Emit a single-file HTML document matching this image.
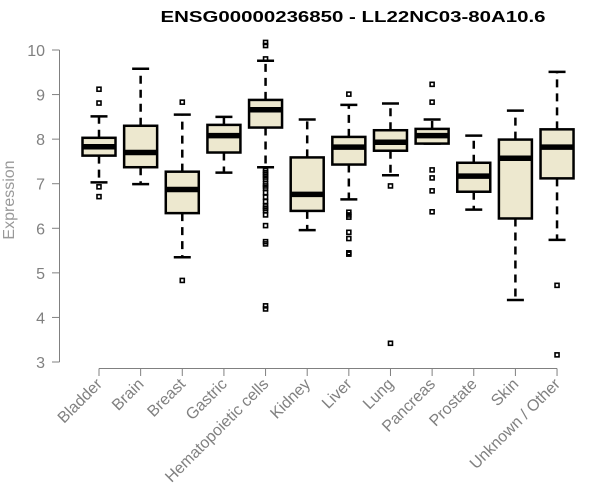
<!DOCTYPE html>
<html><head><meta charset="utf-8"><style>
body{margin:0;background:#fff;}
svg{display:block;font-family:"Liberation Sans",Arial,sans-serif;}
</style></head><body>
<svg id="chart" width="600" height="500"></svg>
<script>
const categories=["Bladder","Brain","Breast","Gastric","Hematopoietic cells","Kidney","Liver","Lung","Pancreas","Prostate","Skin","Unknown / Other"];
const whiskerLow=[7.03,6.99,5.35,7.25,7.37,5.96,6.65,7.19,7.90,6.42,4.39,5.74];
const q1=[7.63,7.37,6.34,7.70,8.26,6.39,7.43,7.74,7.90,6.82,6.22,7.12];
const medians=[7.83,7.70,6.87,8.08,8.66,6.76,7.82,7.93,8.08,7.17,7.57,7.82];
const q3=[8.03,8.30,7.27,8.32,8.88,7.59,8.05,8.20,8.23,7.47,7.99,8.22];
const whiskerHigh=[8.51,9.58,8.55,8.50,9.76,8.44,8.77,8.80,8.44,8.08,8.64,9.51];
const outliers=[[9.12,8.81,6.93,6.71],[],[8.83,4.83],[],
[10.17,10.10,9.80,7.3,7.25,7.2,7.15,7.1,7.0,6.95,6.9,6.8,6.7,6.6,6.5,6.45,6.4,6.3,6.06,5.70,5.65,4.26,4.19],
[],[9.01,6.36,6.30,6.25,5.91,5.77,5.45,5.42],[6.95,3.42],[9.23,8.83,7.31,7.13,6.84,6.37],[],[],[4.72,3.16]];
const yTicks=[3,4,5,6,7,8,9,10];
const NS="http://www.w3.org/2000/svg";
const svg=document.getElementById('chart');
const y=v=>362-(v-3)*(312/7);
const x=i=>99+i*41.64;
function el(t,a,p){const e=document.createElementNS(NS,t);for(const k in a)e.setAttribute(k,a[k]);(p||svg).appendChild(e);return e;}
const gray="#808080";
let t=el('text',{x:353,y:22,'text-anchor':'middle','font-size':16,'font-weight':'bold',fill:'#000',textLength:385,lengthAdjust:'spacingAndGlyphs'});t.textContent="ENSG00000236850 - LL22NC03-80A10.6";


let yl=el('text',{x:14,y:200,'text-anchor':'middle','font-size':16,fill:'#999',transform:'rotate(-90 14 200)'});yl.textContent="Expression";


let ya=el('line',{x1:59.5,x2:59.5,y1:y(3),y2:y(10),stroke:gray,'stroke-width':1});


yTicks.forEach(v=>{
 el('line',{x1:52,x2:59.5,y1:y(v),y2:y(v),stroke:gray});
 let tl=el('text',{x:45,y:y(v)+6,'text-anchor':'end','font-size':16,fill:gray});tl.textContent=v;
 
 
});
let xa=el('line',{x1:x(0),x2:x(11),y1:368.5,y2:368.5,stroke:gray});


categories.forEach((c,i)=>{
 const cx=x(i);
 el('line',{x1:cx,x2:cx,y1:368.5,y2:376,stroke:gray});
 let lb=el('text',{x:cx+4,y:385,'text-anchor':'end','font-size':16,fill:gray,transform:`rotate(-45 ${cx+4} 385)`});lb.textContent=c;
 
 
 const g=el('g',{});
 
 
 el('line',{x1:cx,x2:cx,y1:y(q3[i]),y2:y(whiskerHigh[i]),stroke:'#000','stroke-width':2.5,'stroke-dasharray':'8,6'},g);
 el('line',{x1:cx,x2:cx,y1:y(q1[i]),y2:y(whiskerLow[i]),stroke:'#000','stroke-width':2.5,'stroke-dasharray':'8,6'},g);
 el('line',{x1:cx-8.5,x2:cx+8.5,y1:y(whiskerHigh[i]),y2:y(whiskerHigh[i]),stroke:'#000','stroke-width':2.5},g);
 el('line',{x1:cx-8.5,x2:cx+8.5,y1:y(whiskerLow[i]),y2:y(whiskerLow[i]),stroke:'#000','stroke-width':2.5},g);
 el('rect',{x:cx-16.5,y:y(q3[i]),width:33,height:y(q1[i])-y(q3[i]),fill:'#ede8cf',stroke:'#000','stroke-width':2.5},g);
 el('line',{x1:cx-16.5,x2:cx+16.5,y1:y(medians[i]),y2:y(medians[i]),stroke:'#000','stroke-width':5.5},g);
 outliers[i].forEach(o=>{
  const p=el('rect',{x:cx-2,y:y(o)-2,width:4,height:4,fill:'none',stroke:'#000','stroke-width':1.6},g);
  
  
 });
});
</script>
</body></html>
